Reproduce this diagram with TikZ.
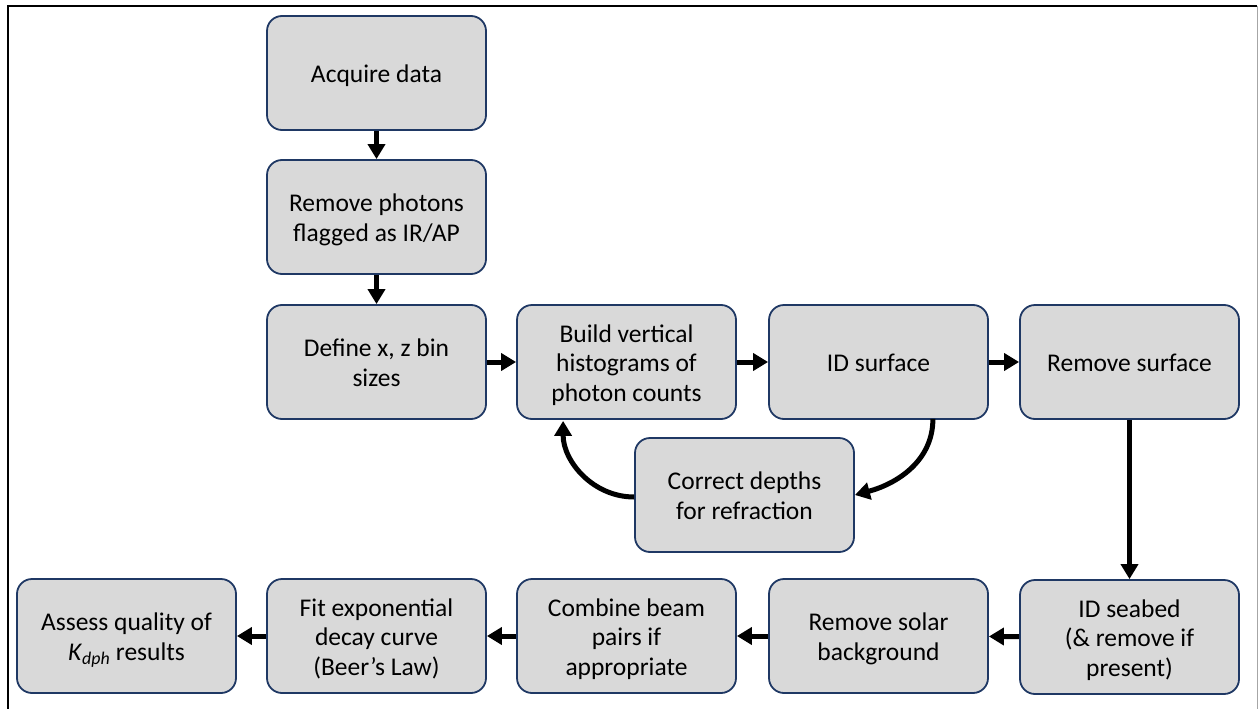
\documentclass[tikz,border=0pt]{standalone}
\usepackage{fontspec}
\setmainfont{Carlito}
\usetikzlibrary{arrows.meta,calc}
\definecolor{boxfill}{HTML}{D9D9D9}
\definecolor{boxline}{HTML}{1F3864}
\newcommand\boxtext[1]{\raisebox{-3.8pt}[\height][\depth]{\begin{tabular}{@{}c@{}}#1\end{tabular}}}
\tikzset{
  stepbox/.style={draw=boxline, fill=boxfill, line width=1.8pt, rounded corners=15pt,
    minimum width=219pt, minimum height=114pt, inner sep=2pt,
    font=\fontsize{25.5}{29.5}\selectfont, text=black},
  arr/.style={line width=5pt, -{Triangle[width=17pt,length=15pt]}, black},
}
\begin{document}
\begin{tikzpicture}[x=1pt,y=-1pt]
\useasboundingbox (0,0) rectangle (1258,709);
\draw[line width=2.5pt, black] (8,709) -- (8,6) -- (1257,6);
\draw[line width=1pt, gray!70] (1257,6) -- (1257,709);

\node[stepbox] (acq) at (376.5,73) {\boxtext{Acquire data}};
\node[stepbox] (rem) at (376.5,217) {\boxtext{Remove photons\\flagged as IR/AP}};
\node[stepbox] (def) at (376.5,362) {\boxtext{Define x, z bin\\sizes}};
\node[stepbox] (build) at (626.5,362) {\boxtext{Build vertical\\histograms of\\photon counts}};
\node[stepbox] (idsurf) at (878.5,362) {\boxtext{ID surface}};
\node[stepbox] (remsurf) at (1129.5,362) {\boxtext{Remove surface}};
\node[stepbox] (corr) at (744.5,495) {\boxtext{Correct depths\\for refraction}};
\node[stepbox] (assess) at (126.5,636) {\boxtext{Assess quality of\\\textit{K}\textsubscript{\textit{dph}} results}};
\node[stepbox] (fit) at (376.5,636) {\boxtext{Fit exponential\\decay curve\\(Beer’s Law)}};
\node[stepbox] (comb) at (626.5,636) {\boxtext{Combine beam\\pairs if\\appropriate}};
\node[stepbox] (solar) at (878.5,636) {\boxtext{Remove solar\\background}};
\node[stepbox] (seabed) at (1129.5,637) {\boxtext{ID seabed\\(\& remove if\\present)}};

\draw[arr] (acq) -- (rem);
\draw[arr] (rem) -- (def);
\draw[arr] (def) -- (build);
\draw[arr] (build) -- (idsurf);
\draw[arr] (idsurf) -- (remsurf);
\draw[arr] (remsurf) -- (seabed);
\draw[arr] (seabed) -- (solar);
\draw[arr] (solar) -- (comb);
\draw[arr] (comb) -- (fit);
\draw[arr] (fit) -- (assess);
\draw[arr] ([xshift=-56pt,yshift=1pt]idsurf.south east) to[out=-90,in=15] (corr.east);
\draw[arr] ([yshift=-2pt]corr.west) to[out=180,in=-90] ([xshift=47pt,yshift=-1pt]build.south west);
\end{tikzpicture}
\end{document}
